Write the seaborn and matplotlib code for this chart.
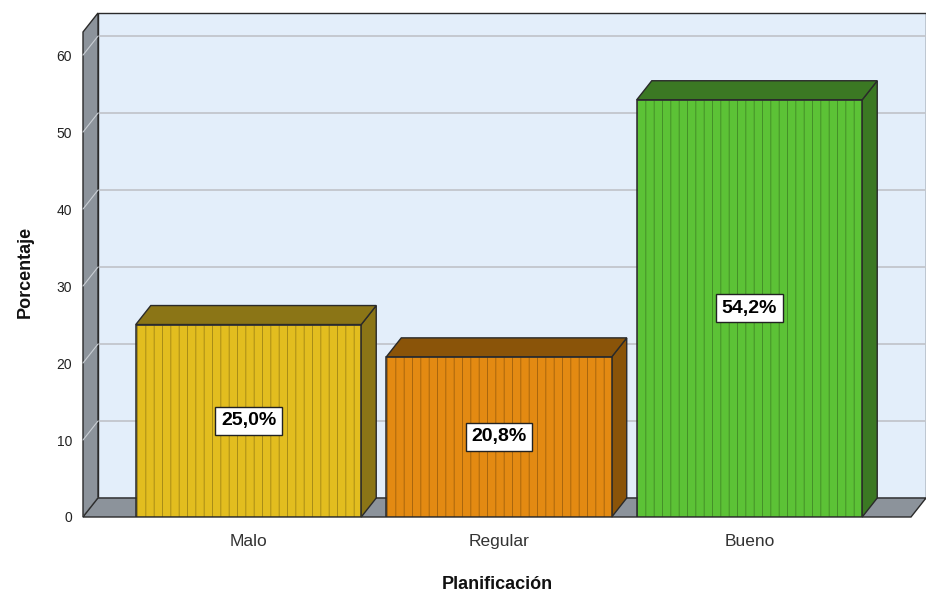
import matplotlib
matplotlib.use("Agg")
import matplotlib.pyplot as plt
from matplotlib.patches import Polygon, Rectangle
import seaborn as sns
import pandas as pd

# data
categorias = ["Malo", "Regular", "Bueno"]
porcentajes = [25.0, 20.8, 54.2]
etiquetas = ["25,0%", "20,8%", "54,2%"]
colores = ["#e2bd1f", "#e38a12", "#5cc236"]
colores_oscuros = ["#8b7516", "#8a5409", "#3b7823"]

sns.set_theme(style="white")
plt.rcParams["font.family"] = ["Liberation Sans", "DejaVu Sans"]
plt.rcParams["hatch.linewidth"] = 0.6

df = pd.DataFrame({"Planificación": categorias, "Porcentaje": porcentajes})

fig = plt.figure(figsize=(9.26, 5.96), dpi=100)
ax = fig.add_axes([83 / 926, 79 / 596, 828 / 926, 485 / 596])

# hatch takes the edge colour, so keep it faint and draw the outline apart
sns.barplot(data=df, x="Planificación", y="Porcentaje", hue="Planificación",
            palette=colores, saturation=1, width=0.9, legend=False, ax=ax,
            edgecolor=(0, 0, 0, 0.3), linewidth=0.6, zorder=5)

xmin, xmax = -0.6607, -0.6607 + 828 / 250.5
ymax = 63.0
ax.set_xlim(xmin, xmax)
ax.set_ylim(0, ymax)
# depth of the 3D effect, 15 px right / 19 px up, in data units
ddx = 15 * (xmax - xmin) / 828
ddy = 19 * ymax / 485

gris = "#8c939b"
borde = "#2a2a2a"
# back wall
ax.add_patch(Polygon([(xmin + ddx, ddy), (xmax + ddx, ddy), (xmax + ddx, ymax + ddy),
                      (xmin + ddx, ymax + ddy)], closed=True, facecolor="#e3eefa",
                     edgecolor=borde, linewidth=1.0, clip_on=False, zorder=0))
for t in range(10, 61, 10):
    ax.plot([xmin + ddx, xmax + ddx], [t + ddy, t + ddy], color="#c2c6cc",
            linewidth=1.3, clip_on=False, zorder=1)
# left wall
ax.add_patch(Polygon([(xmin, 0), (xmin, ymax), (xmin + ddx, ymax + ddy), (xmin + ddx, ddy)],
                     closed=True, facecolor=gris, edgecolor=borde, linewidth=1.0,
                     clip_on=False, zorder=2))
for t in range(0, 61, 10):
    ax.plot([xmin, xmin + ddx], [t, t + ddy], color="#c9ced4", linewidth=0.8,
            clip_on=False, zorder=2.5)
# floor
ax.add_patch(Polygon([(xmin, 0), (xmax, 0), (xmax + ddx, ddy), (xmin + ddx, ddy)],
                     closed=True, facecolor=gris, edgecolor=borde, linewidth=1.0,
                     clip_on=False, zorder=3))

# bars: pattern, top and side faces, value labels
for barra, oscuro, etiqueta in zip(list(ax.patches), colores_oscuros, etiquetas):
    if barra.get_height() == 0:
        continue
    barra.set_hatch("||")
    x0 = barra.get_x()
    x1 = x0 + barra.get_width()
    h = barra.get_height()
    ax.add_patch(Rectangle((x0, 0), x1 - x0, h, facecolor="none", edgecolor=borde,
                           linewidth=1.1, zorder=5.5))
    ax.add_patch(Polygon([(x1, 0), (x1, h), (x1 + ddx, h + ddy), (x1 + ddx, ddy)],
                         closed=True, facecolor=oscuro, edgecolor=borde,
                         linewidth=1.0, clip_on=False, zorder=4))
    ax.add_patch(Polygon([(x0, h), (x1, h), (x1 + ddx, h + ddy), (x0 + ddx, h + ddy)],
                         closed=True, facecolor=oscuro, edgecolor=borde,
                         linewidth=1.0, clip_on=False, zorder=4))
    ax.text((x0 + x1) / 2, h / 2, etiqueta, ha="center", va="center",
            fontsize=14, fontweight="bold", color="black", zorder=6,
            bbox=dict(boxstyle="square,pad=0.28", facecolor="white",
                      edgecolor="#222222", linewidth=1.0))

for s in ax.spines.values():
    s.set_visible(False)
ax.set_yticks(range(0, 61, 10))
ax.tick_params(axis="y", length=0, pad=8, labelsize=10, labelcolor="#222222")
ax.tick_params(axis="x", length=0, pad=12, labelsize=12.5, labelcolor="#333333")
ax.set_ylabel("Porcentaje", fontsize=13, fontweight="bold", color="#111111")
ax.set_xlabel("Planificación", fontsize=13, fontweight="bold", color="#111111")
ax.yaxis.set_label_coords(-0.06, 0.505)
ax.xaxis.set_label_coords(0.5, -0.122)
ax.set_facecolor("none")

fig.savefig("out.png", dpi=100)
